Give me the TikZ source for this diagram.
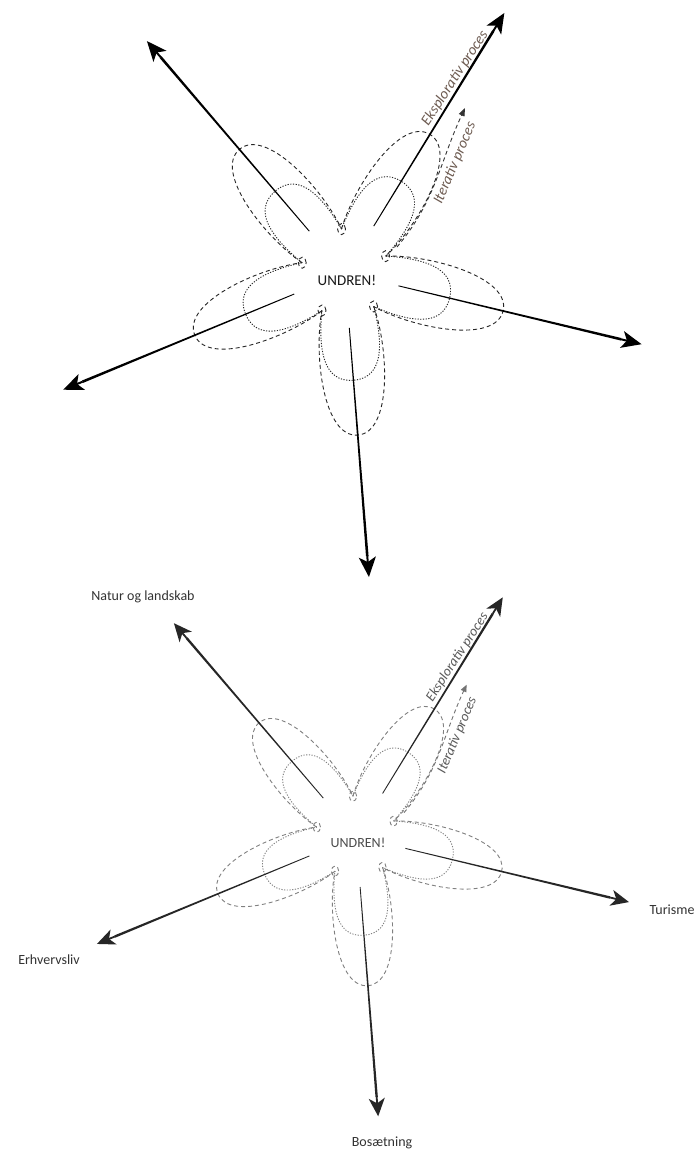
\documentclass[tikz,border=0pt]{standalone}
\usepackage{fontspec}
\setmainfont{Carlito}
\usetikzlibrary{calc,arrows.meta}
\definecolor{procbrown}{RGB}{110,92,82}
\tikzset{
 petaldash/.style={draw=black!85, line width=0.9pt, dash pattern=on 4pt off 3pt},
 petaldot/.style={draw=black!85, line width=0.9pt, dash pattern=on 1.2pt off 1.5pt},
 arrfill/.style={fill=black},
 arrhead/.style={draw=black, line width=2pt, -{Stealth[length=20pt,width=17pt,inset=5pt]}},
 iterarr/.style={draw=black!80, line width=0.9pt, dash pattern=on 4pt off 3pt, -{Triangle[length=8pt,width=6pt]}},
 undren/.style={font=\fontsize{15}{18}\selectfont, text=black!90},
 proc/.style={font=\fontsize{15}{18}\selectfont\itshape, text=procbrown},
 lbl/.style={font=\fontsize{14}{17}\selectfont, text=black!80},
}
\newcommand\flower[1]{%
  \node[undren] (#1undren) at (0,0) {UNDREN!};
  \begin{scope}[shift={(-2,7)}]
  \foreach \a [count=\i] in {130.5,58.5,-13.5,-85.5,-157.5}{
    \begin{scope}[shift={(\a:35.6)},rotate=\a]
      \draw[petaldash] (0,26) .. controls (45,38) and (127,34) .. (127,0) .. controls (127,-34) and (45,-38) .. (0,-26);
      \draw[petaldot] (0,26) .. controls (35,32) and (72,32) .. (72,0) .. controls (72,-32) and (35,-32) .. (0,-26);
    \end{scope}
    \draw[petaldash] (\a+36:44) circle[x radius=4,y radius=5.5];
    \coordinate (#1tail\i) at (\a:55);
    \coordinate (#1neck\i) at (\a:284);
    \coordinate (#1tip\i) at (\a:305);
    \fill[arrfill] ($(#1tail\i)!0.45pt!90:(#1tip\i)$) -- ($(#1neck\i)!1.3pt!-90:(#1tail\i)$)
       -- ($(#1neck\i)!1.3pt!90:(#1tail\i)$) -- ($(#1tail\i)!0.45pt!-90:(#1tip\i)$) -- cycle;
    \draw[arrhead] (#1neck\i) -- (#1tip\i);
  }
  \end{scope}
  \coordinate (#1itA) at (50,33);
  \coordinate (#1itB) at (118,172);
  \draw[iterarr] (#1itA) to[out=50,in=-115] (#1itB);
  \node[proc, rotate=57] (#1eks) at (108,202) {Eksplorativ proces};
  \node[proc, rotate=67] (#1itr) at (108,117) {Iterativ proces};
}
\begin{document}
\begin{tikzpicture}[x=1pt,y=1pt]
\useasboundingbox (0,0) rectangle (697,-1152);
\fill[white] (0,0) rectangle (697,-1152);
\begin{scope}[shift={(347,-280)}]
  \flower{t}
\end{scope}
\begin{scope}[shift={(358,-843)}, scale=0.92,
  petaldash/.style={draw=black!50, line width=0.9pt, dash pattern=on 4pt off 3pt},
  petaldot/.style={draw=black!50, line width=0.9pt, dash pattern=on 1.2pt off 1.5pt},
  iterarr/.style={draw=black!55, line width=0.9pt, dash pattern=on 4pt off 3pt, -{Triangle[length=7pt,width=6pt]}},
  arrfill/.style={fill=black!85},
  arrhead/.style={draw=black!85, line width=1.8pt, -{Stealth[length=18pt,width=16pt,inset=5pt]}},
  undren/.style={font=\fontsize{14}{17}\selectfont, text=black!70},
  proc/.style={font=\fontsize{14}{17}\selectfont\itshape, text=black!65}]
  \flower{b}
\end{scope}
\node[lbl] (natur) at (143,-597) {Natur og landskab};
\node[lbl, anchor=west] (turisme) at (646,-910) {Turisme};
\node[lbl] (erhverv) at (49,-960) {Erhvervsliv};
\node[lbl] (bosaet) at (382,-1143) {Bosætning};
\end{tikzpicture}
\end{document}
